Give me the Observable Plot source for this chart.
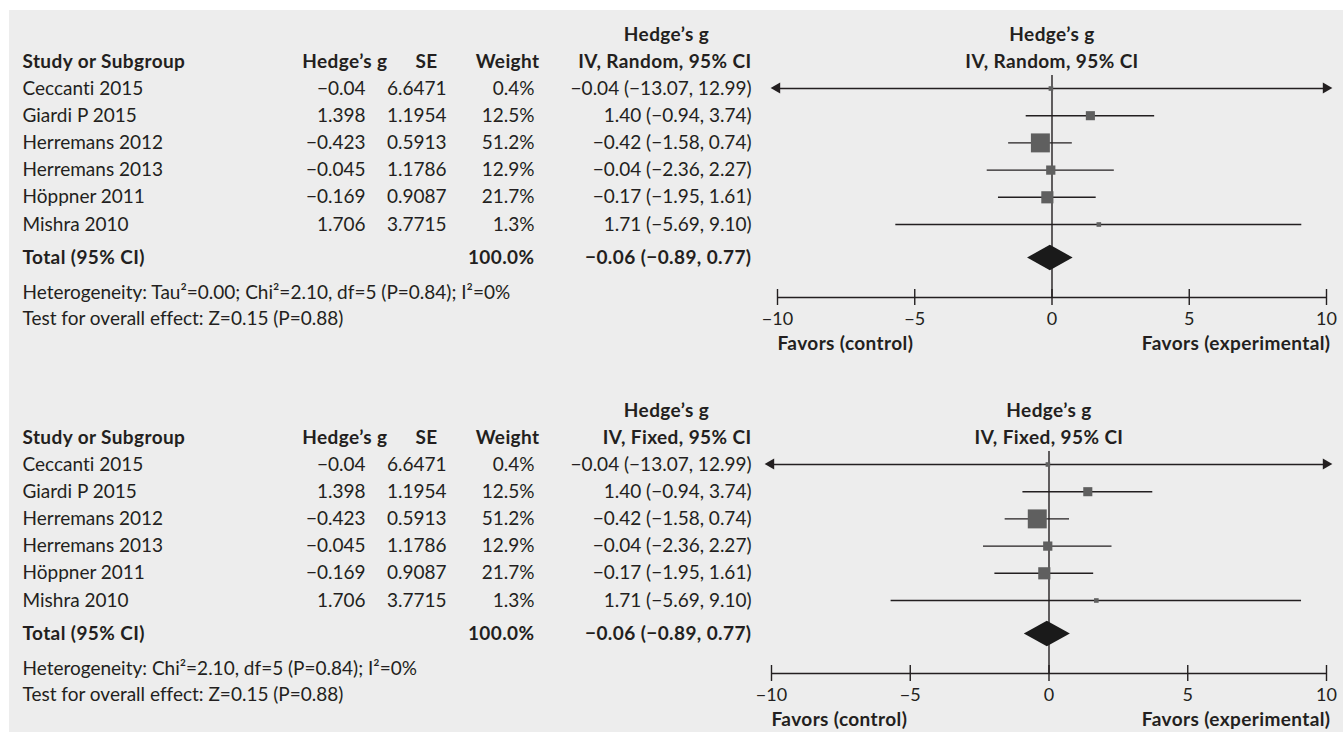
<!DOCTYPE html>
<html><head><meta charset="utf-8">
<script src="https://cdn.jsdelivr.net/npm/d3@7"></script>
<script src="https://cdn.jsdelivr.net/npm/@observablehq/plot@0.6"></script>
<style>
html,body{margin:0;padding:0;background:#fff;}
#wrap{position:absolute;left:9px;top:10px;width:1334px;height:722px;background:#ededed;overflow:hidden;}
#wrap svg{display:block;}
#wrap text{font-variant-ligatures:none;font-feature-settings:"liga" 0;}
#wrap g[font-weight="bold"] text{letter-spacing:0.4px;}
</style></head><body><div id="wrap"></div>
<script>
// ---- data ----
const studies = ["Ceccanti 2015","Giardi P 2015","Herremans 2012","Herremans 2013","Höppner 2011","Mishra 2010"];
const hedgesG = [-0.04, 1.398, -0.423, -0.045, -0.169, 1.706];
const hedgesGText = ["−0.04","1.398","−0.423","−0.045","−0.169","1.706"];
const seText = ["6.6471","1.1954","0.5913","1.1786","0.9087","3.7715"];
const weight = [0.4, 12.5, 51.2, 12.9, 21.7, 1.3];
const ciEst = [-0.04, 1.40, -0.42, -0.04, -0.17, 1.71];
const ciLow = [-13.07, -0.94, -1.58, -2.36, -1.95, -5.69];
const ciHigh = [12.99, 3.74, 0.74, 2.27, 1.61, 9.10];
const totalWeight = 100.0;
const totalEst = -0.06, totalLow = -0.89, totalHigh = 0.77;
const xTicks = [-10, -5, 0, 5, 10];
const modelNames = ["Random", "Fixed"];
const heterogeneityText = [
  "Heterogeneity: Tau²=0.00; Chi²=2.10, df=5 (P=0.84); I²=0%",
  "Heterogeneity: Chi²=2.10, df=5 (P=0.84); I²=0%"
];
const overallText = ["Test for overall effect: Z=0.15 (P=0.88)", "Test for overall effect: Z=0.15 (P=0.88)"];
const favorsLabels = ["Favors (control)", "Favors (experimental)"];

// ---- layout ----
const FONT = "Lato, 'Noto Sans', sans-serif";
const FS = 19;
const INK = "#231f20";
const W = 1334;
const ROW0 = 78, ROWH = 27.2;        // svg px of row 0, row spacing
const FRAME_TOP = 65, FRAME_BOT = 287;
const toRow = px => (px - ROW0) / ROWH;
const Y = {h1: toRow(24), h2: toRow(51), total: toRow(247.5), het: toRow(282), test: toRow(308), favors: toRow(333)};
const fmt = v => (v < 0 ? "−" : "") + Math.abs(v).toFixed(2);

const rows = studies.map((s, i) => ({
  i, study: s, g: hedgesG[i], gText: hedgesGText[i], se: seText[i], w: weight[i],
  ci: `${fmt(ciEst[i])} (${fmt(ciLow[i])}, ${fmt(ciHigh[i])})`,
  lo: Math.max(ciLow[i], -10), hi: Math.min(ciHigh[i], 10),
  arrowL: ciLow[i] < -10, arrowR: ciHigh[i] > 10
}));

function panel(k, height, xLeftPage) {
  const ML = xLeftPage - 9, MR = W - (1326 - 9);
  const dx = pageX => pageX - 9 - ML;
  const T = (data, o) => Plot.text(data, {frameAnchor: "left", fontSize: FS, fill: INK, ...o});
  const one = s => [s];
  const arrows = [
    ...rows.filter(r => r.arrowL).map(r => ({x: -10, y: r.i, rot: -90, d: 6})),
    ...rows.filter(r => r.arrowR).map(r => ({x: 10, y: r.i, rot: 90, d: -6}))
  ];
  const diamond = [
    {y: Y.total - 0.47, x1: totalEst, x2: totalEst},
    {y: Y.total, x1: totalLow, x2: totalHigh},
    {y: Y.total + 0.47, x1: totalEst, x2: totalEst}
  ];
  return Plot.plot({
    width: W, height,
    marginLeft: ML, marginRight: MR, marginTop: FRAME_TOP, marginBottom: height - FRAME_BOT,
    x: {domain: [-10, 10], axis: null},
    y: {domain: [toRow(FRAME_TOP), toRow(FRAME_BOT)], reverse: true, axis: null},
    r: {type: "sqrt", domain: [3.6, 51.2], range: [2.6, 10.7], clamp: true},
    style: {background: "#ededed", fontFamily: FONT, color: INK, overflow: "visible"},
    marks: [
      // table headers
      T(one("Hedge’s g"), {y: () => Y.h1, text: d => d, fontWeight: "bold", textAnchor: "middle", dx: dx(666)}),
      T(one("Study or Subgroup"), {y: () => Y.h2, text: d => d, fontWeight: "bold", textAnchor: "start", dx: dx(22)}),
      T(one("Hedge’s g"), {y: () => Y.h2, text: d => d, fontWeight: "bold", textAnchor: "end", dx: dx(387)}),
      T(one("SE"), {y: () => Y.h2, text: d => d, fontWeight: "bold", textAnchor: "middle", dx: dx(426)}),
      T(one("Weight"), {y: () => Y.h2, text: d => d, fontWeight: "bold", textAnchor: "end", dx: dx(539)}),
      T(one(`IV, ${modelNames[k]}, 95% CI`), {y: () => Y.h2, text: d => d, fontWeight: "bold", textAnchor: "end", dx: dx(751)}),
      // table body
      T(rows, {y: "i", text: "study", textAnchor: "start", dx: dx(22)}),
      T(rows, {y: "i", text: "gText", textAnchor: "end", dx: dx(365)}),
      T(rows, {y: "i", text: "se", textAnchor: "end", dx: dx(446)}),
      T(rows, {y: "i", text: d => d.w.toFixed(1) + "%", textAnchor: "end", dx: dx(534)}),
      T(rows, {y: "i", text: "ci", textAnchor: "end", dx: dx(751)}),
      // totals
      T(one("Total (95% CI)"), {y: () => Y.total, text: d => d, fontWeight: "bold", textAnchor: "start", dx: dx(22)}),
      T(one(totalWeight.toFixed(1) + "%"), {y: () => Y.total, text: d => d, fontWeight: "bold", textAnchor: "end", dx: dx(534)}),
      T(one(`${fmt(totalEst)} (${fmt(totalLow)}, ${fmt(totalHigh)})`), {y: () => Y.total, text: d => d, fontWeight: "bold", textAnchor: "end", dx: dx(751)}),
      T(one(heterogeneityText[k]), {y: () => Y.het, text: d => d, textAnchor: "start", dx: dx(22)}),
      T(one(overallText[k]), {y: () => Y.test, text: d => d, textAnchor: "start", dx: dx(22)}),
      // plot headers
      Plot.text(one("Hedge’s g"), {x: () => 0, y: () => Y.h1, text: d => d, fontWeight: "bold", fontSize: FS, fill: INK}),
      Plot.text(one(`IV, ${modelNames[k]}, 95% CI`), {x: () => 0, y: () => Y.h2, text: d => d, fontWeight: "bold", fontSize: FS, fill: INK}),
      // axis
      Plot.ruleY([toRow(FRAME_BOT)], {stroke: INK, strokeWidth: 1.4}),
      Plot.axisX({ticks: xTicks, tickSize: 16, dy: -8, tickPadding: 7, fontSize: 18, color: INK, strokeWidth: 1.4}),
      Plot.text(one(favorsLabels[0]), {x: () => -10, y: () => Y.favors, text: d => d, textAnchor: "start", fontWeight: "bold", fontSize: FS, fill: INK}),
      Plot.text(one(favorsLabels[1]), {x: () => 10, y: () => Y.favors, text: d => d, textAnchor: "end", fontWeight: "bold", fontSize: FS, fill: INK, dx: 4}),
      // zero line
      Plot.ruleX([0], {stroke: INK, strokeWidth: 1.4}),
      // CI lines
      Plot.ruleY(rows, {y: "i", x1: "lo", x2: "hi", stroke: INK, strokeWidth: 1.4}),
      Plot.dot(arrows, {x: "x", y: "y", rotate: "rot", dx: "d", symbol: "triangle", r: 4.1, fill: INK, stroke: "none"}),
      // squares
      Plot.dot(rows, {x: "g", y: "i", r: "w", symbol: "square", fill: "#5f5f5f", stroke: "none"}),
      // diamond
      Plot.areaX(diamond, {y: "y", x1: "x1", x2: "x2", fill: "#1a1a1a", curve: "linear"})
    ]
  });
}
const wrap = document.getElementById("wrap");
wrap.appendChild(panel(0, 376, 777));
wrap.appendChild(panel(1, 346, 771));
</script>
</body></html>
